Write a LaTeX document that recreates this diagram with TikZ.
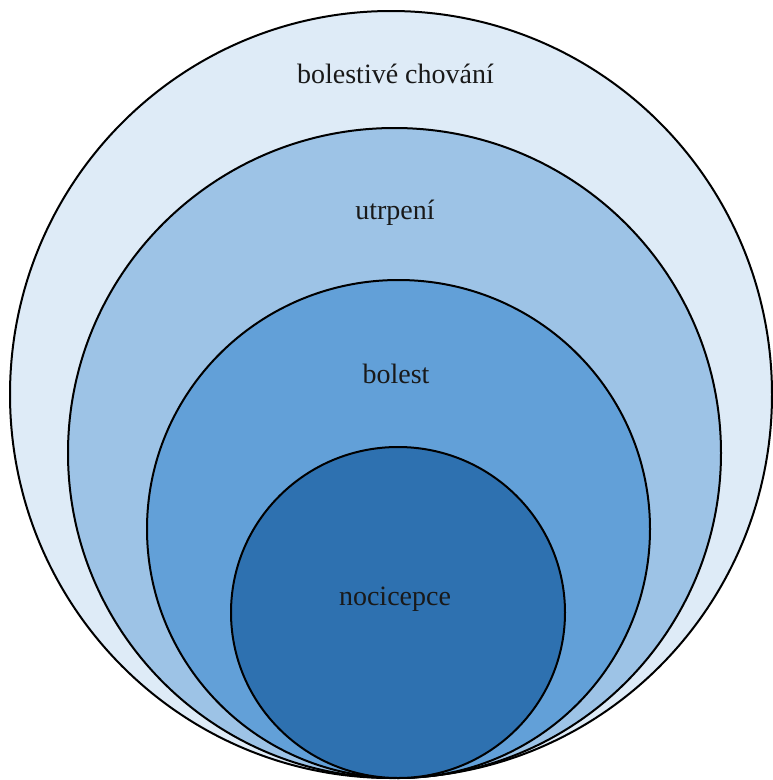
\documentclass[tikz,border=0pt]{standalone}
\usepackage{fontspec}
\setmainfont{Liberation Serif}
\usetikzlibrary{shapes.geometric}
\definecolor{ringA}{HTML}{DEEBF7}
\definecolor{ringB}{HTML}{9DC3E6}
\definecolor{ringC}{HTML}{62A0D8}
\definecolor{ringD}{HTML}{2E71B0}
\tikzset{
  ring/.style={ellipse, draw=black, line width=2pt, inner sep=0pt},
  lbl/.style={font=\fontsize{28}{33}\selectfont, text=black!90, inner sep=0pt}
}
\begin{document}
\begin{tikzpicture}[x=1pt,y=-1pt]
\useasboundingbox (0,0) rectangle (772,780);
% nested rings, all touching at the bottom
\node[ring, fill=ringA, minimum width=762pt, minimum height=767pt] (behav) at (391,394.5) {};
\node[ring, fill=ringB, minimum width=653pt, minimum height=650pt] (suffer) at (394.5,453) {};
\node[ring, fill=ringC, minimum width=503pt, minimum height=498pt] (pain) at (398.5,529) {};
\node[ring, fill=ringD, minimum width=334pt, minimum height=331pt] (noci) at (398,612.5) {};
% labels
\node[lbl] (tbehav) at (395.5,74) {bolestivé chování};
\node[lbl] (tsuffer) at (395,213) {utrpení};
\node[lbl] (tpain) at (396,374) {bolest};
\node[lbl] (tnoci) at (395,599) {nocicepce};
\end{tikzpicture}
\end{document}
